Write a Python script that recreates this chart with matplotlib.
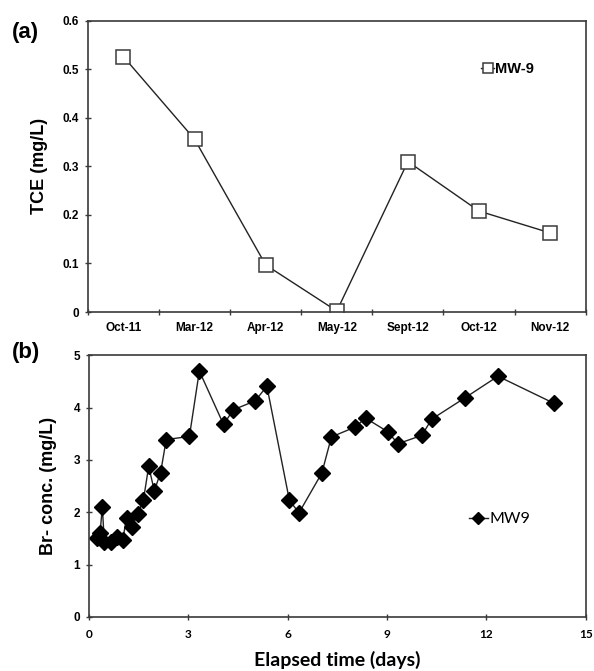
import matplotlib
matplotlib.use('Agg')
import matplotlib.pyplot as plt
import numpy as np

# (a) TCE in MW-9
months = ['Oct-11', 'Mar-12', 'Apr-12', 'May-12', 'Sept-12', 'Oct-12', 'Nov-12']
tce = [0.526, 0.356, 0.097, 0.002, 0.310, 0.208, 0.163]

# (b) bromide tracer in MW9
days = [0.25, 0.33, 0.40, 0.46, 0.66, 0.83, 1.02, 1.13, 1.30, 1.47, 1.64, 1.80, 1.97, 2.16,
        2.33, 3.03, 3.33, 4.06, 4.36, 5.02, 5.37, 6.05, 6.34, 7.03, 7.32, 8.04, 8.35, 9.02,
        9.33, 10.05, 10.35, 11.36, 12.35, 14.05]
br = [1.50, 1.60, 2.10, 1.43, 1.44, 1.52, 1.48, 1.90, 1.72, 1.97, 2.23, 2.88, 2.41, 2.76,
      3.39, 3.45, 4.70, 3.68, 3.96, 4.13, 4.41, 2.23, 1.99, 2.75, 3.44, 3.63, 3.80, 3.54,
      3.31, 3.47, 3.78, 4.19, 4.60, 4.08]

arial = ['Liberation Sans', 'DejaVu Sans']
calibri = ['Lato', 'DejaVu Sans']
edge = '#3a3a3a'

fig = plt.figure(figsize=(5.94, 6.71), dpi=100)

ax1 = fig.add_axes([0.148, 0.535, 0.838, 0.434])
x = np.arange(1, len(months) + 1)
ax1.plot(x, tce, '-', color='#222222', lw=1.0, marker='s', ms=9.5,
         mfc='white', mec=edge, mew=1.1, label='MW-9')
ax1.set_xlim(0.5, 7.5)
ax1.set_ylim(0, 0.6)
ax1.set_xticks(np.arange(0.5, 8.0, 1.0))
ax1.set_xticklabels([])
ax1.set_xticks(x, minor=True)
ax1.set_xticklabels(months, minor=True, fontsize=8.5, fontweight='bold', family=arial)
ax1.tick_params(axis='x', which='minor', length=0, pad=7)
ax1.tick_params(axis='x', which='major', direction='inout', length=5, width=1, color=edge)
ax1.set_yticks(np.arange(0, 0.61, 0.1))
ax1.set_yticklabels(['0', '0.1', '0.2', '0.3', '0.4', '0.5', '0.6'])
ax1.tick_params(axis='y', direction='inout', length=5, width=1, color=edge, labelsize=8.5, pad=4)
for lab in ax1.get_yticklabels():
    lab.set_fontweight('bold')
    lab.set_family(arial)
ax1.set_ylabel('TCE (mg/L)', fontsize=13, fontweight='bold', family=arial, labelpad=10)
for s in ax1.spines.values():
    s.set_color(edge)
    s.set_linewidth(1.2)
leg = ax1.legend(loc='center left', bbox_to_anchor=(0.775, 0.835), frameon=False,
                 handlelength=0.9, handletextpad=0.05, borderpad=0, markerscale=0.8,
                 prop={'family': arial, 'weight': 'bold', 'size': 10.5})

ax2 = fig.add_axes([0.150, 0.0805, 0.836, 0.390])
ax2.plot(days, br, '-', color='#222222', lw=1.0, marker='D', ms=8.5,
         mfc='black', mec='black', label='MW9')
ax2.set_xlim(0, 15)
ax2.set_ylim(0, 5)
ax2.set_xticks([0, 3, 6, 9, 12, 15])
ax2.set_yticks([0, 1, 2, 3, 4, 5])
ax2.tick_params(axis='x', direction='inout', length=5, width=1, color=edge, labelsize=8.5, pad=6)
ax2.tick_params(axis='y', direction='inout', length=5, width=1, color=edge, labelsize=8.5, pad=4)
for lab in ax2.get_xticklabels():
    lab.set_fontweight('bold')
    lab.set_family(calibri)
for lab in ax2.get_yticklabels():
    lab.set_fontweight('bold')
    lab.set_family(arial)
ax2.set_ylabel('Br- conc. (mg/L)', fontsize=13, fontweight='bold', family=arial, labelpad=12)
ax2.set_xlabel('Elapsed time (days)', fontsize=14, fontweight='bold', family=calibri, labelpad=8)
for s in ax2.spines.values():
    s.set_color(edge)
    s.set_linewidth(1.2)
ax2.legend(loc='center left', bbox_to_anchor=(0.748, 0.374), frameon=False,
           handlelength=1.2, handletextpad=0.1, borderpad=0, markerscale=0.7,
           prop={'family': calibri, 'size': 11.5})

fig.text(0.02, 0.943, '(a)', fontsize=16, fontweight='bold', family=arial)
fig.text(0.02, 0.467, '(b)', fontsize=16, fontweight='bold', family=arial)

fig.savefig('out.png', dpi=100)
